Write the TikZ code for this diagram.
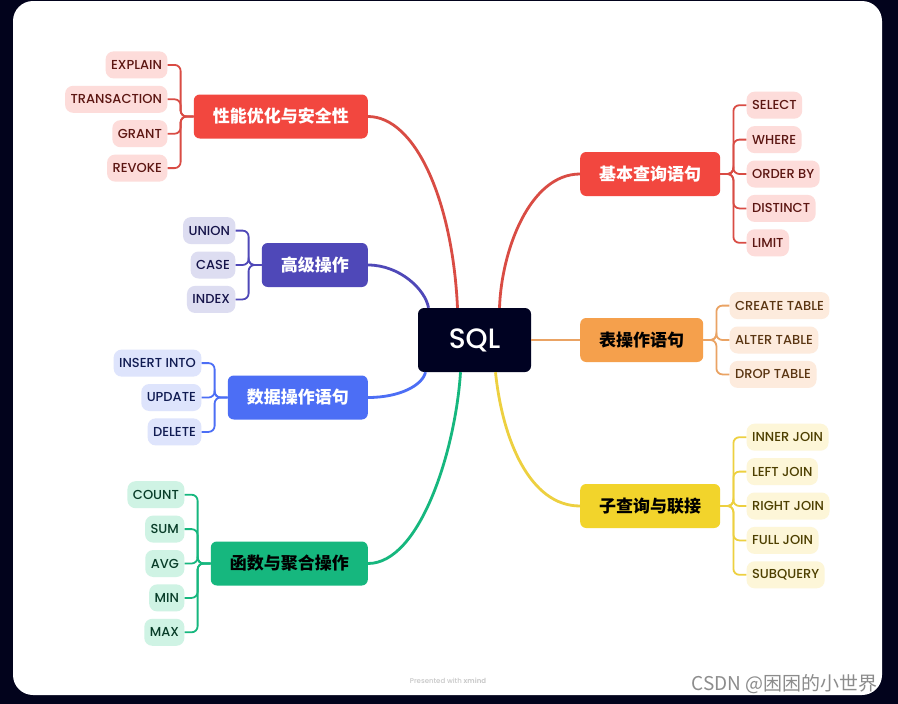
\documentclass[tikz,border=0pt]{standalone}
\usepackage{fontspec}
\setmainfont{Poppins}[UprightFont=* Medium, BoldFont=* SemiBold]
\newfontfamily\cjk{Noto Sans CJK SC}
\usetikzlibrary{calc}

\definecolor{frame}{HTML}{02031C}
\definecolor{rootbg}{HTML}{000222}
\definecolor{redtopic}{HTML}{F2473F}
\definecolor{redleaf}{HTML}{FDDCDA}
\definecolor{redtext}{HTML}{5C1612}
\definecolor{redline}{HTML}{D94C44}
\definecolor{orgtopic}{HTML}{F5A04C}
\definecolor{orgleaf}{HTML}{FDEBDD}
\definecolor{orgtext}{HTML}{5A3512}
\definecolor{orgline}{HTML}{EAA364}
\definecolor{ylwtopic}{HTML}{F2D42B}
\definecolor{ylwleaf}{HTML}{FDF6D8}
\definecolor{ylwtext}{HTML}{4D3F00}
\definecolor{ylwline}{HTML}{EDD040}
\definecolor{prptopic}{HTML}{4F48B8}
\definecolor{prpleaf}{HTML}{DDDDF1}
\definecolor{prptext}{HTML}{16144A}
\definecolor{blutopic}{HTML}{4C6EF5}
\definecolor{bluleaf}{HTML}{DEE4FC}
\definecolor{blutext}{HTML}{101B52}
\definecolor{grntopic}{HTML}{16B77E}
\definecolor{grnleaf}{HTML}{CFF3E4}
\definecolor{grntext}{HTML}{083C28}

\tikzset{
    topic/.style={rounded corners=6pt, minimum height=44pt, inner xsep=19pt,
        font=\cjk\bfseries\fontsize{17}{17}\selectfont},
    leaf/.style={rounded corners=8pt, minimum height=27pt, inner xsep=5.5pt,
        font=\fontsize{13}{13}\selectfont},
    mainline/.style={line width=2.8pt},
    twig/.style={line width=1.8pt, rounded corners=6pt}
}

\begin{document}
\begin{tikzpicture}[x=1pt, y=-1pt]

% Frame and sheet
\useasboundingbox (0,0) rectangle (898,704);
\fill[frame] (0,0) rectangle (898,704);
\fill[white, rounded corners=20pt] (13,1) rectangle (882,695);

% Root
\node[fill=rootbg, text=white, rounded corners=6pt, minimum width=113pt, minimum height=64pt,
    font=\fontsize{28}{28}\selectfont] (sql) at (474.5,340) {SQL};

% Main topics
\node[topic, fill=redtopic, text=white, anchor=east] (perf) at (368,116.5) {性能优化与安全性};
\node[topic, fill=prptopic, text=white, anchor=east] (adv) at (368,265) {高级操作};
\node[topic, fill=blutopic, text=white, anchor=east] (dml) at (368,397.5) {数据操作语句};
\node[topic, fill=grntopic, text=black, anchor=east] (func) at (368,563.5) {函数与聚合操作};
\node[topic, fill=redtopic, text=white, anchor=west] (basic) at (580,174) {基本查询语句};
\node[topic, fill=orgtopic, text=black, anchor=west] (table) at (580,340) {表操作语句};
\node[topic, fill=ylwtopic, text=black, anchor=west] (join) at (580,506) {子查询与联接};

% Branches from the root
\draw[mainline, redline] (perf.east) .. controls +(47,0) and +(-5,-108) .. ([xshift=-17pt]sql.north);
\draw[mainline, prptopic] (adv.east) .. controls +(32,0) and +(-3,-18) .. ([xshift=-46pt]sql.north);
\draw[mainline, blutopic] (dml.east) .. controls +(32,0) and +(-3,13) .. ([xshift=-49pt]sql.south);
\draw[mainline, grntopic] (func.east) .. controls +(52,0) and +(-5,78) .. ([xshift=-14pt]sql.south);
\draw[mainline, redline] ([xshift=25pt]sql.north) .. controls +(2,-58) and +(-50,0) .. (basic.west);
\draw[mainline, orgline] (sql.east) -- (table.west);
\draw[mainline, ylwline] ([xshift=21pt]sql.south) .. controls +(7,68) and +(-50,0) .. (join.west);

% Leaves on the left
\foreach \txt [count=\i from 0] in {EXPLAIN,TRANSACTION,GRANT,REVOKE} {
    \node[leaf, fill=redleaf, text=redtext, anchor=east] (perf\i) at ($(perf.west)+(-26,{(\i-1.5)*34.4})$) {\txt};
    \draw[twig, redline] (perf.west) -- ++(-13,0) |- (perf\i.east);
}
\foreach \txt [count=\i from 0] in {UNION,CASE,INDEX} {
    \node[leaf, fill=prpleaf, text=prptext, anchor=east] (adv\i) at ($(adv.west)+(-26,{(\i-1)*34.4})$) {\txt};
    \draw[twig, prptopic] (adv.west) -- ++(-13,0) |- (adv\i.east);
}
\foreach \txt [count=\i from 0] in {INSERT INTO,UPDATE,DELETE} {
    \node[leaf, fill=bluleaf, text=blutext, anchor=east] (dml\i) at ($(dml.west)+(-26,{(\i-1)*34.4})$) {\txt};
    \draw[twig, blutopic] (dml.west) -- ++(-13,0) |- (dml\i.east);
}
\foreach \txt [count=\i from 0] in {COUNT,SUM,AVG,MIN,MAX} {
    \node[leaf, fill=grnleaf, text=grntext, anchor=east] (func\i) at ($(func.west)+(-26,{(\i-2)*34.4})$) {\txt};
    \draw[twig, grntopic] (func.west) -- ++(-13,0) |- (func\i.east);
}

% Leaves on the right
\foreach \txt [count=\i from 0] in {SELECT,WHERE,ORDER BY,DISTINCT,LIMIT} {
    \node[leaf, fill=redleaf, text=redtext, anchor=west] (basic\i) at ($(basic.east)+(26,{(\i-2)*34.4})$) {\txt};
    \draw[twig, redline] (basic.east) -- ++(13,0) |- (basic\i.west);
}
\foreach \txt [count=\i from 0] in {CREATE TABLE,ALTER TABLE,DROP TABLE} {
    \node[leaf, fill=orgleaf, text=orgtext, anchor=west] (table\i) at ($(table.east)+(26,{(\i-1)*34.4})$) {\txt};
    \draw[twig, orgline] (table.east) -- ++(13,0) |- (table\i.west);
}
\foreach \txt [count=\i from 0] in {INNER JOIN,LEFT JOIN,RIGHT JOIN,FULL JOIN,SUBQUERY} {
    \node[leaf, fill=ylwleaf, text=ylwtext, anchor=west] (join\i) at ($(join.east)+(26,{(\i-2)*34.4})$) {\txt};
    \draw[twig, ylwline] (join.east) -- ++(13,0) |- (join\i.west);
}

% Footer texts
\node[font=\fontsize{7}{7}\selectfont, text=black!22] (credit) at (448,681) {Presented with \textbf{xmind}};
\node[font=\cjk\fontsize{19}{19}\selectfont, text=black!45, anchor=east] (mark) at (881,684) {CSDN @困困的小世界};

\end{tikzpicture}
\end{document}
